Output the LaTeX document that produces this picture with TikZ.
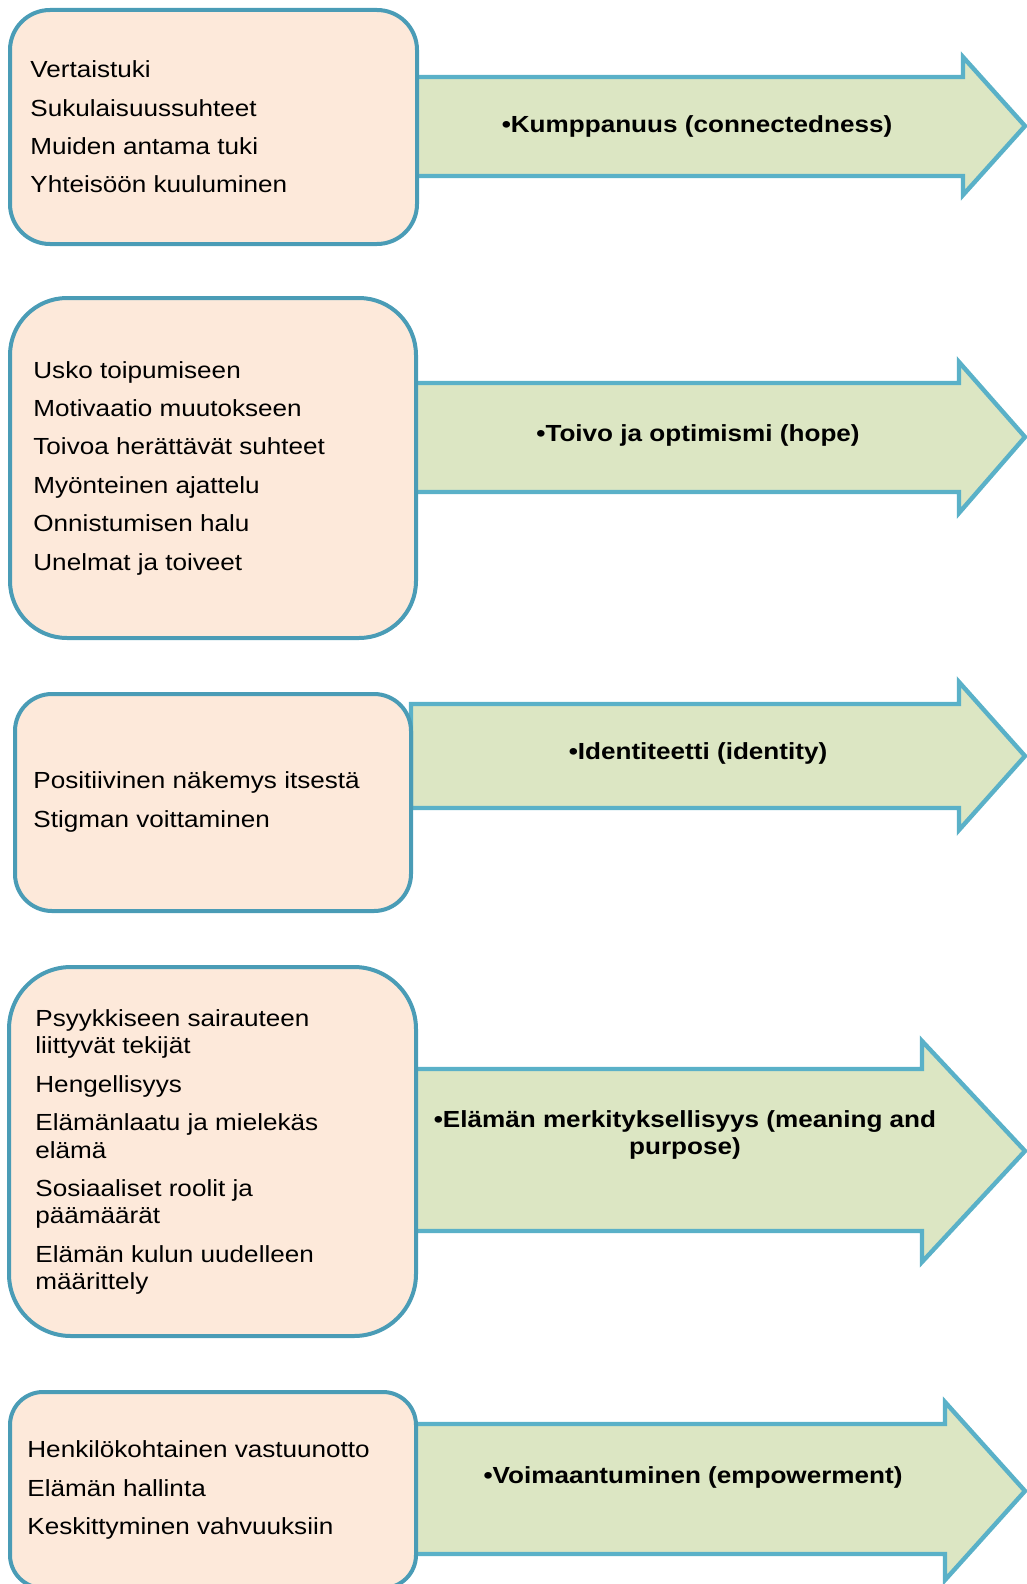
\documentclass[tikz,border=0pt]{standalone}
\usepackage{fontspec}
\setmainfont{Liberation Sans}[FakeStretch=1.12]
\usetikzlibrary{positioning}
\definecolor{boxline}{HTML}{4A9CB6}
\definecolor{boxfill}{HTML}{FDE9DA}
\definecolor{bandline}{HTML}{5AB1C8}
\definecolor{bandfill}{HTML}{DCE6C3}

\begin{document}
\begin{tikzpicture}[x=0.5pt, y=-0.5pt]
                \tikzstyle{factor}=[draw=boxline, line width=2pt, fill=boxfill, inner sep=0pt]
                \tikzstyle{items}=[align=left, inner sep=0pt, anchor=west, font=\fontsize{11.65}{13.65}\selectfont]
                \tikzstyle{theme}=[align=center, inner sep=0pt, font=\bfseries\fontsize{11.65}{13.65}\selectfont]
                \tikzstyle{band}=[draw=bandline, line width=2.2pt, fill=bandfill]
                
                \useasboundingbox (0,0) rectangle (1027,1584);
                
                % arrows first, the boxes cover their left ends
                \foreach \bleft/\btop/\bbot/\hbase/\htop/\hbot/\tipy in {416/77/176/963/57/195/126, 415/383/492/959/362/513/437, 411/704/808/959/682/830/756, 415/1069/1231/922/1041/1262/1151, 415/1424/1554/945/1402/1580/1491}
                    \draw[band] (\bleft,\btop) -- (\hbase,\btop) -- (\hbase,\htop) -- (1025,\tipy) -- (\hbase,\hbot) -- (\hbase,\bbot) -- (\bleft,\bbot) -- cycle;
                
                \node[factor, minimum width=203.5pt, minimum height=117pt, rounded corners=20pt] (f1) at (213.5,127) {};
                \node[factor, minimum width=203pt, minimum height=170pt, rounded corners=28.5pt] (f2) at (213,468) {};
                \node[factor, minimum width=198pt, minimum height=108.5pt, rounded corners=18.5pt] (f3) at (213,802.5) {};
                \node[factor, minimum width=203.5pt, minimum height=184.5pt, rounded corners=31pt] (f4) at (212.5,1151.5) {};
                \node[factor, minimum width=203pt, minimum height=98pt, rounded corners=16.5pt] (f5) at (213,1490) {};
                
                \node[items] (i1) at (30,127) {Vertaistuki\\[5.55pt] Sukulaisuussuhteet\\[5.55pt] Muiden antama tuki\\[5.55pt] Yhteisöön kuuluminen};
                \node[items] (i2) at (33,468) {Usko toipumiseen\\[5.55pt] Motivaatio muutokseen\\[5.55pt] Toivoa herättävät suhteet\\[5.55pt] Myönteinen ajattelu\\[5.55pt] Onnistumisen halu\\[5.55pt] Unelmat ja toiveet};
                \node[items] (i3) at (33,802) {Positiivinen näkemys itsestä\\[5.55pt] Stigman voittaminen};
                \node[items] (i4) at (35,1152) {Psyykkiseen sairauteen\\ liittyvät tekijät\\[5.55pt] Hengellisyys\\[5.55pt] Elämänlaatu ja mielekäs\\ elämä\\[5.55pt] Sosiaaliset roolit ja\\ päämäärät\\[5.55pt] Elämän kulun uudelleen\\ määrittely};
                \node[items] (i5) at (27,1490) {Henkilökohtainen vastuunotto\\[5.55pt] Elämän hallinta\\[5.55pt] Keskittyminen vahvuuksiin};
                
                \node[theme] (t1) at (697,126) {•Kumppanuus (connectedness)};
                \node[theme] (t2) at (698,435) {•Toivo ja optimismi (hope)};
                \node[theme] (t3) at (698,753) {•Identiteetti (identity)};
                \node[theme] (t4) at (685,1135) {•Elämän merkityksellisyys (meaning and\\ purpose)};
                \node[theme] (t5) at (693,1477) {•Voimaantuminen (empowerment)};
            \end{tikzpicture}
\end{document}
